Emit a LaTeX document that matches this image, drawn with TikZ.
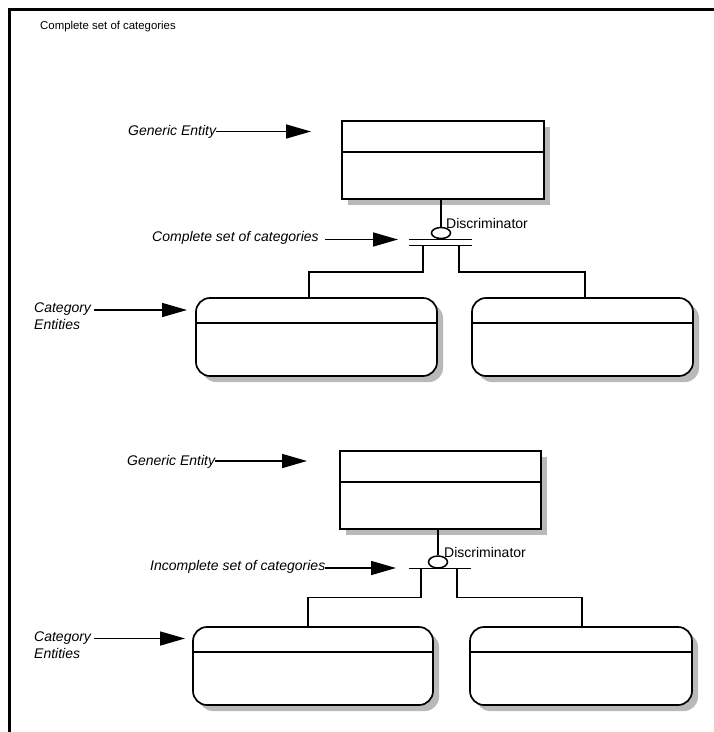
\documentclass[tikz,border=0pt]{standalone}
\usepackage{fontspec}
\setmainfont{Liberation Sans}
\usetikzlibrary{arrows.meta,shapes.geometric,shadows,calc}
\begin{document}
\begin{tikzpicture}[x=1pt,y=-1pt,
  shd/.style={drop shadow={shadow xshift=6pt, shadow yshift=-6pt, fill=gray!55, draw=none, opacity=1}},
  gen/.style={draw, line width=1.7pt, fill=white, minimum width=#1, minimum height=78pt, inner sep=0pt, shd},
  catbox/.style={draw, line width=1.7pt, fill=white, rounded corners=14pt, minimum width=#1, minimum height=78pt, inner sep=0pt, shd},
  divl/.style={line width=1.6pt},
  lbl/.style={font=\fontsize{14}{16}\selectfont\itshape, inner sep=0pt, anchor=west},
  disc/.style={font=\fontsize{14}{16}\selectfont, inner sep=0pt, anchor=west},
  ttl/.style={font=\fontsize{11.4}{13}\selectfont, inner sep=0pt, anchor=west},
  conn/.style={line width=1.5pt},
  arr/.style={line width=1.6pt, -{Triangle[length=25pt,width=14pt]}},
  ell/.style={ellipse, draw, line width=1.5pt, fill=white, minimum width=19pt, minimum height=11pt, inner sep=0pt}
]
\useasboundingbox (0,0) rectangle (714,732);
% frame
\draw[line width=3pt] (9,732) -- (9,9.5) -- (714,9.5);
\node[ttl] (title) at (40,27) {Complete set of categories};

% ===== top: complete set =====
\node[gen=202pt] (g1) at (443,160) {};
\draw[divl] ([yshift=-32pt]g1.north west) -- ([yshift=-32pt]g1.north east);
\node[catbox=241pt] (c1) at (316.5,337) {};
\node[catbox=221pt] (c2) at (582.5,337) {};
\draw[divl] ([yshift=-26pt]c1.north west) -- ([yshift=-26pt]c1.north east);
\draw[divl] ([yshift=-26pt]c2.north west) -- ([yshift=-26pt]c2.north east);

\node[ell] (e1) at (441,233) {};
\draw[conn] (e1.north |- g1.south) -- (e1.north);
\node[disc] (d1) at (446,223) {Discriminator};
\coordinate (b1a) at (409,239.5);
\coordinate (b1b) at (472,239.5);
\coordinate (b2a) at (409,245.5);
\coordinate (b2b) at (472,245.5);
\draw[conn] (b1a) -- (b1b);
\draw[conn] (b2a) -- (b2b);
\coordinate (l1) at (423,245.5);
\coordinate (r1) at (459,245.5);
\coordinate (j1) at (309,298);
\coordinate (j2) at (585,298);
\draw[conn] (l1) |- ($(l1)!0.5!(j1)$) -| (j1);
\draw[conn] (r1) |- ($(r1)!0.5!(j2)$) -| (j2);

\node[lbl] (ge1) at (128,132) {Generic Entity};
\coordinate (t1) at (311,131.5);
\draw[arr] (ge1.east |- t1) -- (t1);
\node[lbl] (cs1) at (152,238) {Complete set of categories};
\coordinate (t2) at (398,239.5);
\draw[arr] ([xshift=6pt]cs1.east |- t2) -- (t2);
\node[lbl] (cat1) at (34,309) {Category};
\node[lbl] (ent1) at (34,324) {Entities};
\coordinate (t3) at (187,310);
\draw[arr] ([xshift=3pt]cat1.east |- t3) -- (t3);

% ===== bottom: incomplete set =====
\node[gen=201pt] (g2) at (440.5,490) {};
\draw[divl] ([yshift=-32pt]g2.north west) -- ([yshift=-32pt]g2.north east);
\node[catbox=240pt] (c3) at (313,666) {};
\node[catbox=222pt] (c4) at (581,666) {};
\draw[divl] ([yshift=-26pt]c3.north west) -- ([yshift=-26pt]c3.north east);
\draw[divl] ([yshift=-26pt]c4.north west) -- ([yshift=-26pt]c4.north east);

\node[ell, minimum height=12pt] (e2) at (438,562) {};
\draw[conn] (e2.north |- g2.south) -- (e2.north);
\node[disc] (d2) at (444,552) {Discriminator};
\coordinate (b3a) at (409,568.3);
\coordinate (b3b) at (471,568.3);
\draw[conn] (b3a) -- (b3b);
\coordinate (l2) at (421,568.3);
\coordinate (r2) at (457,568.3);
\coordinate (j3) at (308,627);
\coordinate (j4) at (582,627);
\draw[conn] (l2) |- ($(l2)!0.5!(j3)$) -| (j3);
\draw[conn] (r2) |- ($(r2)!0.5!(j4)$) -| (j4);

\node[lbl] (ge2) at (127,462) {Generic Entity};
\coordinate (t4) at (307,461);
\draw[arr] (ge2.east |- t4) -- (t4);
\node[lbl] (ic2) at (150,567) {Incomplete set of categories};
\coordinate (t5) at (396,568);
\draw[arr] (ic2.east |- t5) -- (t5);
\node[lbl] (cat2) at (34,638) {Category};
\node[lbl] (ent2) at (34,653) {Entities};
\coordinate (t6) at (185,638.5);
\draw[arr] ([xshift=3pt]cat2.east |- t6) -- (t6);
\end{tikzpicture}
\end{document}
